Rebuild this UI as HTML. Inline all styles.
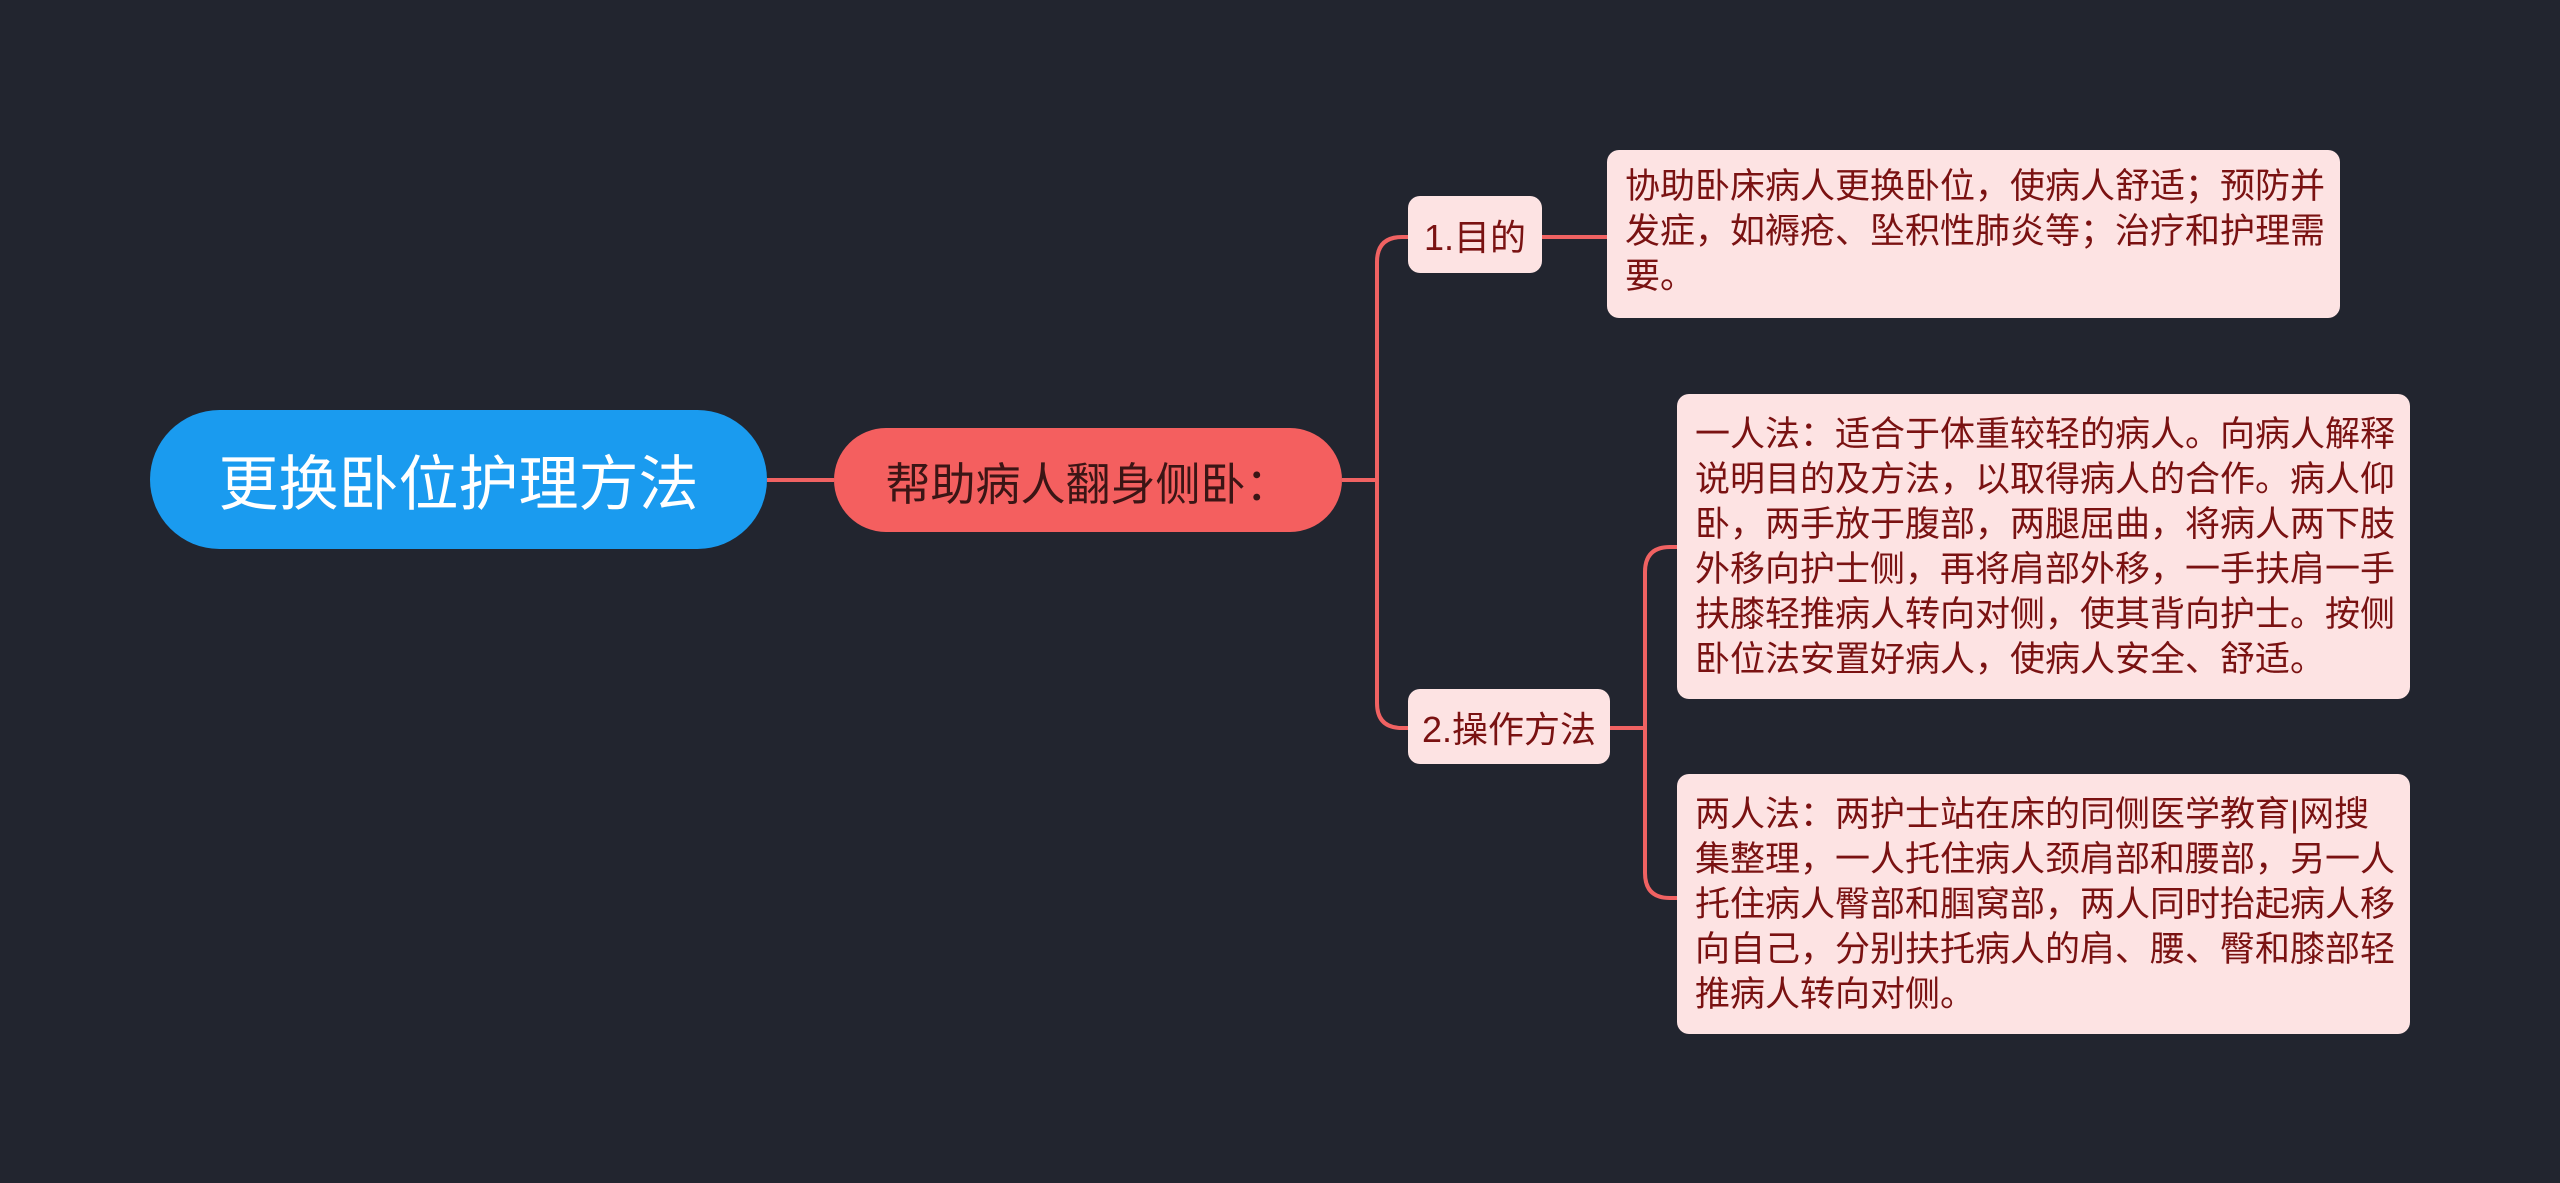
<!DOCTYPE html>
<html><head><meta charset="utf-8"><style>
html,body{margin:0;padding:0;}
body{width:2560px;height:1183px;background:#22252f;position:relative;overflow:hidden;font-family:"Liberation Sans","Noto Sans CJK SC",sans-serif;}
.n{position:absolute;box-sizing:border-box;}
.root{left:150px;top:410px;width:617px;height:139px;border-radius:70px;background:#1a9bef;color:#fff;font-size:60px;display:flex;align-items:center;justify-content:center;}
.c1{left:834px;top:428px;width:508px;height:104px;border-radius:52px;background:#f45f5f;color:#3b1515;font-size:45px;display:flex;align-items:center;justify-content:center;}
.s{background:#fde3e3;color:#7a1212;border-radius:12px;font-size:36px;display:flex;align-items:center;justify-content:center;}
.t{background:#fde3e3;color:#7a1212;border-radius:12px;font-size:35px;line-height:45px;padding:14px 0 0 18px;white-space:nowrap;}
</style></head><body>
<svg width="2560" height="1183" style="position:absolute;left:0;top:0">
<g fill="none" stroke="#f06262" stroke-width="4">
<path d="M767 480 H834"/>
<path d="M1342 480 H1377"/>
<path d="M1377 480 V262 Q1377 237 1402 237 H1410"/>
<path d="M1377 480 V703 Q1377 728 1402 728 H1410"/>
<path d="M1542 237 H1608"/>
<path d="M1610 728 H1645"/>
<path d="M1645 728 V572 Q1645 547 1670 547 H1678"/>
<path d="M1645 728 V873 Q1645 898 1670 898 H1678"/>
</g></svg>
<div class="n root">更换卧位护理方法</div>
<div class="n c1">帮助病人翻身侧卧：</div>
<div class="n s" style="left:1408px;top:196px;width:134px;height:77px;">1.目的</div>
<div class="n s" style="left:1408px;top:689px;width:202px;height:75px;">2.操作方法</div>
<div class="n t" style="left:1607px;top:150px;width:733px;height:168px;">协助卧床病人更换卧位，使病人舒适；预防并<br>发症，如褥疮、坠积性肺炎等；治疗和护理需<br>要。</div>
<div class="n t" style="left:1677px;top:394px;width:733px;height:305px;padding-top:18px;">一人法：适合于体重较轻的病人。向病人解释<br>说明目的及方法，以取得病人的合作。病人仰<br>卧，两手放于腹部，两腿屈曲，将病人两下肢<br>外移向护士侧，再将肩部外移，一手扶肩一手<br>扶膝轻推病人转向对侧，使其背向护士。按侧<br>卧位法安置好病人，使病人安全、舒适。</div>
<div class="n t" style="left:1677px;top:774px;width:733px;height:260px;padding-top:18px;">两人法：两护士站在床的同侧医学教育|网搜<br>集整理，一人托住病人颈肩部和腰部，另一人<br>托住病人臀部和腘窝部，两人同时抬起病人移<br>向自己，分别扶托病人的肩、腰、臀和膝部轻<br>推病人转向对侧。</div>
</body></html>
